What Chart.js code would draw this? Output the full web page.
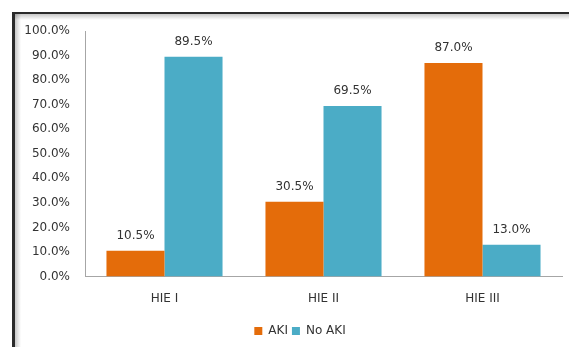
<!DOCTYPE html>
<html>
<head>
<meta charset="utf-8">
<script src="https://cdn.jsdelivr.net/npm/chart.js@4/dist/chart.umd.min.js"></script>
<style>
  html, body { margin: 0; padding: 0; background: #fff; overflow: hidden; }
  #wrap { position: relative; width: 569px; height: 347px; overflow: hidden; }
  #frame {
    position: absolute; left: 12px; top: 12px; width: 700px; height: 333px;
    border-left: 3px solid #2a2a2a; border-top: 2px solid #2a2a2a;
    border-bottom: 1px solid #d8d8d8;
    background:
      linear-gradient(to right, rgba(0,0,0,0.22), rgba(0,0,0,0) 6px),
      linear-gradient(to bottom, rgba(0,0,0,0.22), rgba(0,0,0,0) 6px);
  }
  #chart-1 { position: absolute; left: 0; top: 0; }
</style>
</head>
<body>
<div id="wrap">
  <div id="frame"></div>
  <canvas id="chart-1" width="569" height="347"></canvas>
</div>
<script>
const categories = ["HIE I", "HIE II", "HIE III"];
const akiValues = [10.5, 30.5, 87.0];
const noAkiValues = [89.5, 69.5, 13.0];

// values written above each bar
const barLabels = {
  id: "barLabels",
  afterDatasetsDraw: function (chart) {
    const ctx = chart.ctx;
    ctx.save();
    ctx.font = "12px 'DejaVu Sans'";
    ctx.fillStyle = "#333";
    ctx.textAlign = "center";
    ctx.textBaseline = "middle";
    chart.data.datasets.forEach(function (ds, i) {
      chart.getDatasetMeta(i).data.forEach(function (bar, j) {
        ctx.fillText(ds.data[j].toFixed(1) + "%", bar.x, bar.y - 15);
      });
    });
    ctx.restore();
  },
};

// nudge the legend a bit right, like the original
const legendShift = {
  id: "legendShift",
  afterLayout: function (chart) {
    chart.legend.left += 38;
  },
};

Chart.defaults.font.family = "'DejaVu Sans'";
Chart.defaults.font.size = 12;
Chart.defaults.color = "#333";

new Chart(document.getElementById("chart-1"), {
  type: "bar",
  data: {
    labels: categories,
    datasets: [
      { label: "AKI", data: akiValues, backgroundColor: "#E46C0A" },
      { label: "No AKI", data: noAkiValues, backgroundColor: "#4BACC6" },
    ],
  },
  options: {
    responsive: false,
    animation: { duration: 0 },
    layout: { padding: { left: 0, right: 7, top: 31, bottom: 0 } },
    datasets: { bar: { categoryPercentage: 0.73, barPercentage: 1 } },
    scales: {
      x: {
        grid: { display: false, drawTicks: false },
        border: { color: "#a6a6a6" },
        ticks: { padding: 15 },
      },
      y: {
        min: 0,
        max: 100,
        grid: { display: false, drawTicks: false },
        border: { color: "#a6a6a6" },
        ticks: {
          stepSize: 10,
          padding: 15,
          callback: function (v) { return v.toFixed(1) + "%"; },
        },
        afterFit: function (scale) { scale.width = 85; },
      },
    },
    plugins: {
      tooltip: { enabled: false },
      legend: {
        display: true,
        position: "bottom",
        labels: { boxWidth: 8, boxHeight: 8, padding: 4 },
      },
    },
  },
  plugins: [barLabels, legendShift],
});
</script>
</body>
</html>
